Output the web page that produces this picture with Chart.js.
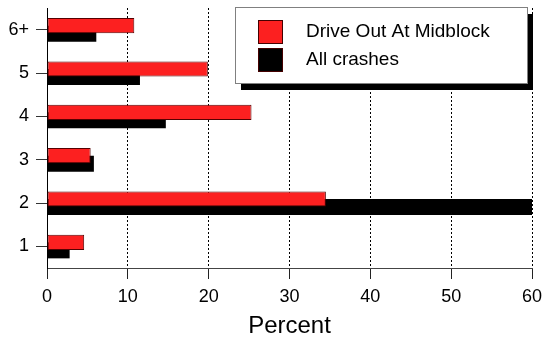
<!DOCTYPE html>
<html>
<head>
<meta charset="utf-8">
<script src="https://cdn.jsdelivr.net/npm/chart.js@4"></script>
<style>
body { margin: 0; background: #fff; }
canvas { display: block; }
</style>
</head>
<body>
<canvas id="diagramCrashes" width="543" height="341"></canvas>
<script>
// categories from top to bottom, as drawn
const categories = ['6+', '5', '4', '3', '2', '1'];
const driveOut = [10.8, 19.9, 25.3, 5.4, 34.5, 4.6];
const allCrashes = [6.1, 11.5, 14.7, 5.8, 62, 2.8];
const percentTicks = [0, 10, 20, 30, 40, 50, 60];

Chart.defaults.font.family = '"Liberation Sans", Arial, sans-serif';
Chart.defaults.color = '#000';

// legend with a drop shadow, drawn by hand
const legendBox = {
    id: 'legendBox',
    afterDraw: function(chart) {
        const ctx = chart.ctx;
        const x = 235, y = 7, w = 292, h = 76;
        ctx.save();
        ctx.fillStyle = '#000';
        ctx.fillRect(x + 6, y + 7, w, h);
        ctx.fillStyle = '#fff';
        ctx.fillRect(x, y, w, h);
        ctx.strokeStyle = '#808080';
        ctx.lineWidth = 1;
        ctx.strokeRect(x + 0.5, y + 0.5, w, h);
        ctx.font = '19px "Liberation Sans", Arial, sans-serif';
        ctx.textBaseline = 'middle';
        chart.data.datasets.forEach(function(ds, i) {
            const sy = 20 + i * 28;
            ctx.fillStyle = ds.backgroundColor;
            ctx.fillRect(258, sy, 24, 23);
            ctx.strokeStyle = '#400';
            ctx.strokeRect(258.5, sy + 0.5, 24, 23);
            ctx.fillStyle = '#000';
            ctx.fillText(ds.label, 306, sy + 12);
        });
        ctx.restore();
    }
};

const canvasCrashes = document.getElementById('diagramCrashes');
let barCrashes = new Chart(canvasCrashes, {
    type: 'bar',
    data: {
        labels: categories,
        datasets: [{
            label: 'Drive Out At Midblock',
            data: driveOut,
            backgroundColor: 'rgb(252, 32, 32)',
            borderColor: '#500',
            borderWidth: 1,
            borderSkipped: false,
            categoryPercentage: 0.37,
            barPercentage: 1.9
        }, {
            label: 'All crashes',
            data: allCrashes,
            backgroundColor: '#000',
            borderWidth: 0,
            categoryPercentage: 0.37,
            barPercentage: 2
        }]
    },
    options: {
        indexAxis: 'y',
        responsive: false,
        animation: false,
        devicePixelRatio: 1,
        layout: { padding: { top: 8, right: 11, left: 0, bottom: 0 } },
        plugins: {
            legend: { display: false },
            tooltip: { enabled: false }
        },
        scales: {
            x: {
                min: 0,
                max: 60,
                afterBuildTicks: function(axis) {
                    axis.ticks = percentTicks.map(v => ({ value: v }));
                },
                afterFit: function(axis) {
                    axis.height = 73;
                    axis.paddingLeft = 0;
                    axis.paddingRight = 0;
                },
                grid: {
                    color: '#000',
                    tickLength: 11,
                    tickColor: '#222',
                    tickBorderDash: []
                },
                border: { color: '#444', width: 1, dash: [2, 2] },
                ticks: { font: { size: 18 }, padding: 7, maxRotation: 0 },
                title: {
                    display: true,
                    text: 'Percent',
                    font: { size: 24 },
                    padding: 0
                }
            },
            y: {
                afterFit: function(axis) {
                    axis.width = 47;
                    axis.paddingTop = 0;
                    axis.paddingBottom = 0;
                },
                grid: {
                    offset: false,
                    drawOnChartArea: false,
                    tickLength: 11,
                    tickColor: '#333'
                },
                border: { color: '#000', width: 1 },
                ticks: { font: { size: 18 }, padding: 7 }
            }
        }
    },
    plugins: [legendBox]
});
</script>
</body>
</html>
